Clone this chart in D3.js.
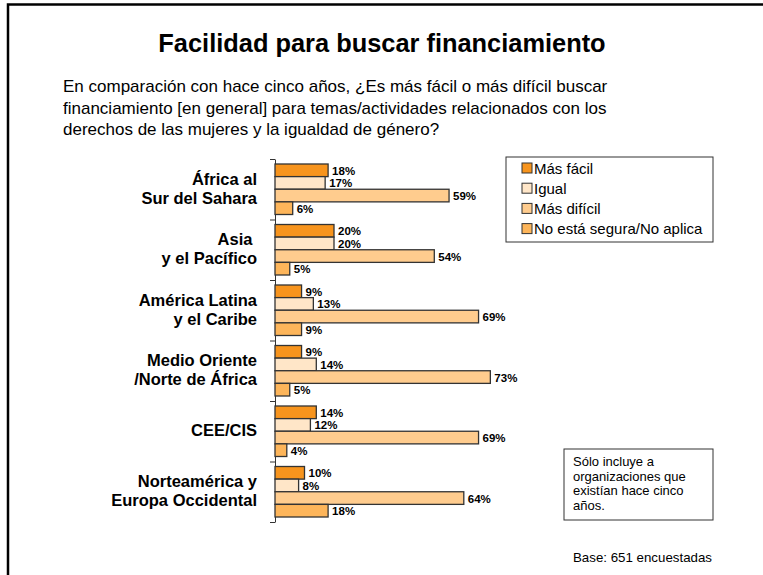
<!DOCTYPE html>
<html>
<head>
<meta charset="utf-8">
<script src="https://cdn.jsdelivr.net/npm/d3@7"></script>
<style>
  body { margin: 0; background: #fff; }
  svg { font-family: "Liberation Sans", Arial, sans-serif; }
</style>
</head>
<body>
<svg id="chart" width="763" height="575"></svg>
<script>
var regions = [
    ['África al', 'Sur del Sahara'],
    ['Asia ', 'y el Pacífico'],
    ['América Latina', 'y el Caribe'],
    ['Medio Oriente', '/Norte de África'],
    ['CEE/CIS'],
    ['Norteamérica y', 'Europa Occidental']
];
var seriesNames = ['Más fácil', 'Igual', 'Más difícil', 'No está segura/No aplica'];
var masFacil   = [18, 20, 9, 9, 14, 10];
var igual      = [17, 20, 13, 14, 12, 8];
var masDificil = [59, 54, 69, 73, 69, 64];
var noSegura   = [6, 5, 9, 5, 4, 18];
var seriesColors = ['#f7941d', '#ffe6c8', '#ffcc8e', '#fdb55a'];

var subtitleLines = [
    'En comparación con hace cinco años, ¿Es más fácil o más difícil buscar',
    'financiamiento [en general] para temas/actividades relacionados con los',
    'derechos de las mujeres y la igualdad de género?'
];
var noteLines = ['Sólo incluye a', 'organizaciones que', 'existían hace cinco', 'años.'];

var values = [masFacil, igual, masDificil, noSegura];

var svg = d3.select('#chart');

// outer frame (runs off the right and bottom of the picture)
svg.append('rect')
    .attr('x', 8).attr('y', 4.5)
    .attr('width', 800).attr('height', 700)
    .attr('fill', 'none')
    .attr('stroke', '#000')
    .attr('stroke-width', 2.5);

svg.append('text')
    .attr('x', 382).attr('y', 52)
    .attr('text-anchor', 'middle')
    .style('font-size', '25.4px')
    .style('font-weight', 'bold')
    .text('Facilidad para buscar financiamiento');

svg.selectAll('.subtitle')
    .data(subtitleLines).enter()
    .append('text')
    .attr('class', 'subtitle')
    .attr('x', 63)
    .attr('y', function(d, i) { return 92 + i * 21.5; })
    .style('font-size', '17px')
    .text(function(d) { return d; });

var idx = d3.range(regions.length);

var x = d3.scaleLinear().domain([0, 100]).range([275, 570]);
var y0 = d3.scaleBand().domain(idx).range([159, 522]).padding(0);
var y1 = d3.scaleBand().domain(d3.range(seriesNames.length)).range([5, y0.bandwidth() - 5]).padding(0);

// axis with ticks between groups
var yEdge = d3.scaleLinear().domain([0, regions.length]).range([159, 522]);
svg.append('g')
    .attr('transform', 'translate(275,0)')
    .call(d3.axisLeft(yEdge).tickValues(d3.range(regions.length + 1)).tickFormat('').tickSize(5).tickSizeOuter(0))
    .call(function(g) { g.selectAll('path, line').attr('stroke', '#333'); });

var groups = svg.selectAll('.group')
    .data(idx).enter()
    .append('g')
    .attr('class', 'group')
    .attr('transform', function(i) { return 'translate(0,' + y0(i) + ')'; });

groups.selectAll('rect')
    .data(function(i) { return values.map(function(v, s) { return {s: s, v: v[i]}; }); })
    .enter()
    .append('rect')
    .attr('x', x(0))
    .attr('y', function(d) { return y1(d.s); })
    .attr('width', function(d) { return x(d.v) - x(0); })
    .attr('height', y1.bandwidth())
    .attr('fill', function(d) { return seriesColors[d.s]; })
    .attr('stroke', '#333')
    .attr('stroke-width', 1.3);

groups.selectAll('.val')
    .data(function(i) { return values.map(function(v, s) { return {s: s, v: v[i]}; }); })
    .enter()
    .append('text')
    .attr('class', 'val')
    .attr('x', function(d) { return x(d.v) + 4; })
    .attr('y', function(d) { return y1(d.s) + y1.bandwidth() / 2 + 4.5; })
    .style('font-size', '11.5px')
    .style('font-weight', 'bold')
    .text(function(d) { return d.v + '%'; });

// category labels
groups.append('text')
    .attr('text-anchor', 'end')
    .style('font-size', '16.5px')
    .style('font-weight', 'bold')
    .selectAll('tspan')
    .data(function(i) { return regions[i]; })
    .enter()
    .append('tspan')
    .attr('x', 257)
    .attr('y', function(d, j, nodes) {
        var n = nodes.length;
        return y0.bandwidth() / 2 + 5 + (j - (n - 1) / 2) * 19;
    })
    .text(function(d) { return d; });

// legend
var legend = svg.append('g').attr('transform', 'translate(506,157)');
legend.append('rect')
    .attr('width', 207).attr('height', 85)
    .attr('fill', '#fff').attr('stroke', '#333').attr('stroke-width', 1);
var items = legend.selectAll('.item')
    .data(seriesNames).enter()
    .append('g')
    .attr('class', 'item')
    .attr('transform', function(d, i) { return 'translate(16,' + (6 + i * 20.2) + ')'; });
items.append('rect')
    .attr('width', 10).attr('height', 10)
    .attr('fill', function(d, i) { return seriesColors[i]; })
    .attr('stroke', '#333').attr('stroke-width', 1);
items.append('text')
    .attr('x', 12).attr('y', 10.5)
    .style('font-size', '15px')
    .text(function(d) { return d; });

// note box
var note = svg.append('g').attr('transform', 'translate(564,449)');
note.append('rect')
    .attr('width', 149).attr('height', 71)
    .attr('fill', '#fff').attr('stroke', '#333').attr('stroke-width', 1);
note.selectAll('text')
    .data(noteLines).enter()
    .append('text')
    .attr('x', 9)
    .attr('y', function(d, i) { return 17 + i * 14.5; })
    .style('font-size', '13px')
    .text(function(d) { return d; });

svg.append('text')
    .attr('x', 573).attr('y', 561.5)
    .style('font-size', '13.3px')
    .text('Base: 651 encuestadas');
</script>
</body>
</html>
